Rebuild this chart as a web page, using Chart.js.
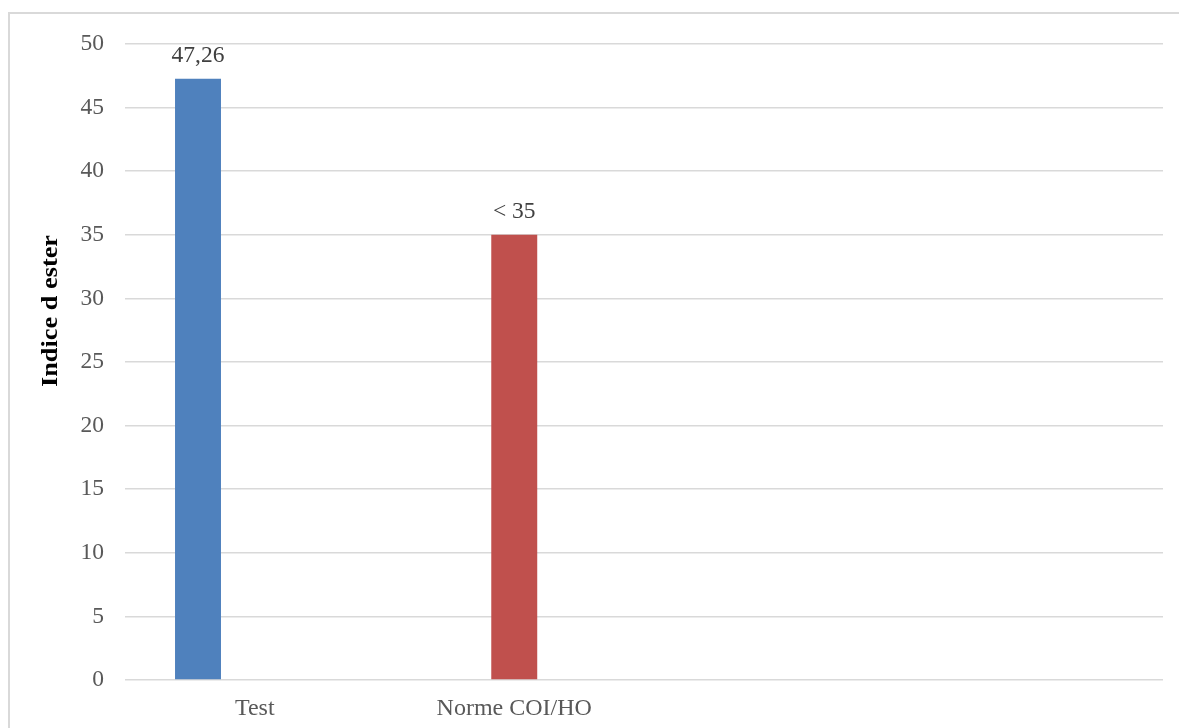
<!DOCTYPE html>
<html>
<head>
<meta charset="utf-8">
<script src="https://cdn.jsdelivr.net/npm/chart.js@4.4.0/dist/chart.umd.min.js"></script>
<style>
  html, body { margin: 0; padding: 0; background: #ffffff; overflow: hidden; }
  #frame {
    position: absolute; left: 8px; top: 12px; width: 1300px; height: 900px;
    border: 2px solid #d9d9d9; box-sizing: border-box;
  }
  #wrap { position: absolute; left: 0; top: 0; width: 1179px; height: 728px; }
</style>
</head>
<body>
<div id="frame"></div>
<div id="wrap"><canvas id="myChart"></canvas></div>
<script>
const ctx = document.getElementById("myChart");

// categories on the x axis (last two slots are empty)
var categories = ["Test", "Norme COI/HO", "", ""];
var testValues = [47.26, null, null, null];
var normeValues = [null, 35, null, null];
var emptyValues = [null, null, null, null];
var valueLabels = [["47,26", null, null, null], [null, "< 35", null, null]];
var yTicks = [0, 5, 10, 15, 20, 25, 30, 35, 40, 45, 50];
var yTitle = "Indice d ester";

const serif = "'Liberation Serif', 'Times New Roman', serif";

// value labels above bars + rotated axis title
const labelPlugin = {
  id: "barLabels",
  afterDatasetsDraw(chart) {
    const c = chart.ctx;
    c.save();
    c.font = "23.5px " + serif;
    c.fillStyle = "#404040";
    c.textAlign = "center";
    c.textBaseline = "middle";
    valueLabels.forEach((labels, di) => {
      const meta = chart.getDatasetMeta(di);
      meta.data.forEach((bar, i) => {
        if (labels[i] == null) return;
        c.fillText(labels[i], bar.x, bar.y - 23);
      });
    });
    c.restore();

    c.save();
    c.font = "bold 24px " + serif;
    c.fillStyle = "#000000";
    c.textAlign = "center";
    c.textBaseline = "middle";
    c.translate(51, 311);
    c.rotate(-Math.PI / 2);
    // title runs a bit longer than the plain font gives
    let w = c.measureText(yTitle).width;
    c.scale(152 / w, 1);
    c.fillText(yTitle, 0, 0);
    c.restore();
  }
};

const config = {
  type: "bar",
  data: {
    labels: categories,
    datasets: [
      { data: testValues, backgroundColor: "#4F81BD", categoryPercentage: 0.656, barPercentage: 0.81 },
      { data: normeValues, backgroundColor: "#C0504D", categoryPercentage: 0.656, barPercentage: 0.81 },
      { data: emptyValues, backgroundColor: "#9BBB59", categoryPercentage: 0.656, barPercentage: 0.81 }
    ]
  },
  options: {
    responsive: true,
    maintainAspectRatio: false,
    animation: false,
    layout: { padding: { left: 0, right: 16, top: 44, bottom: 0 } },
    plugins: {
      legend: { display: false },
      tooltip: { enabled: false },
      title: { display: false }
    },
    scales: {
      x: {
        grid: { display: false, drawTicks: false },
        border: { display: false },
        ticks: { color: "#595959", font: { family: serif, size: 24 }, padding: 14 },
        afterFit: (scale) => { scale.height = 48; }
      },
      y: {
        min: 0,
        max: 50,
        afterBuildTicks: (scale) => { scale.ticks = yTicks.map(v => ({ value: v })); },
        grid: { color: "#d9d9d9", lineWidth: 1.5, drawTicks: false },
        border: { display: false },
        ticks: { color: "#595959", font: { family: serif, size: 23.5 }, padding: 21 },
        afterFit: (scale) => { scale.width = 125; }
      }
    }
  },
  plugins: [labelPlugin]
};

var chart = new Chart(ctx, config);
</script>
</body>
</html>
